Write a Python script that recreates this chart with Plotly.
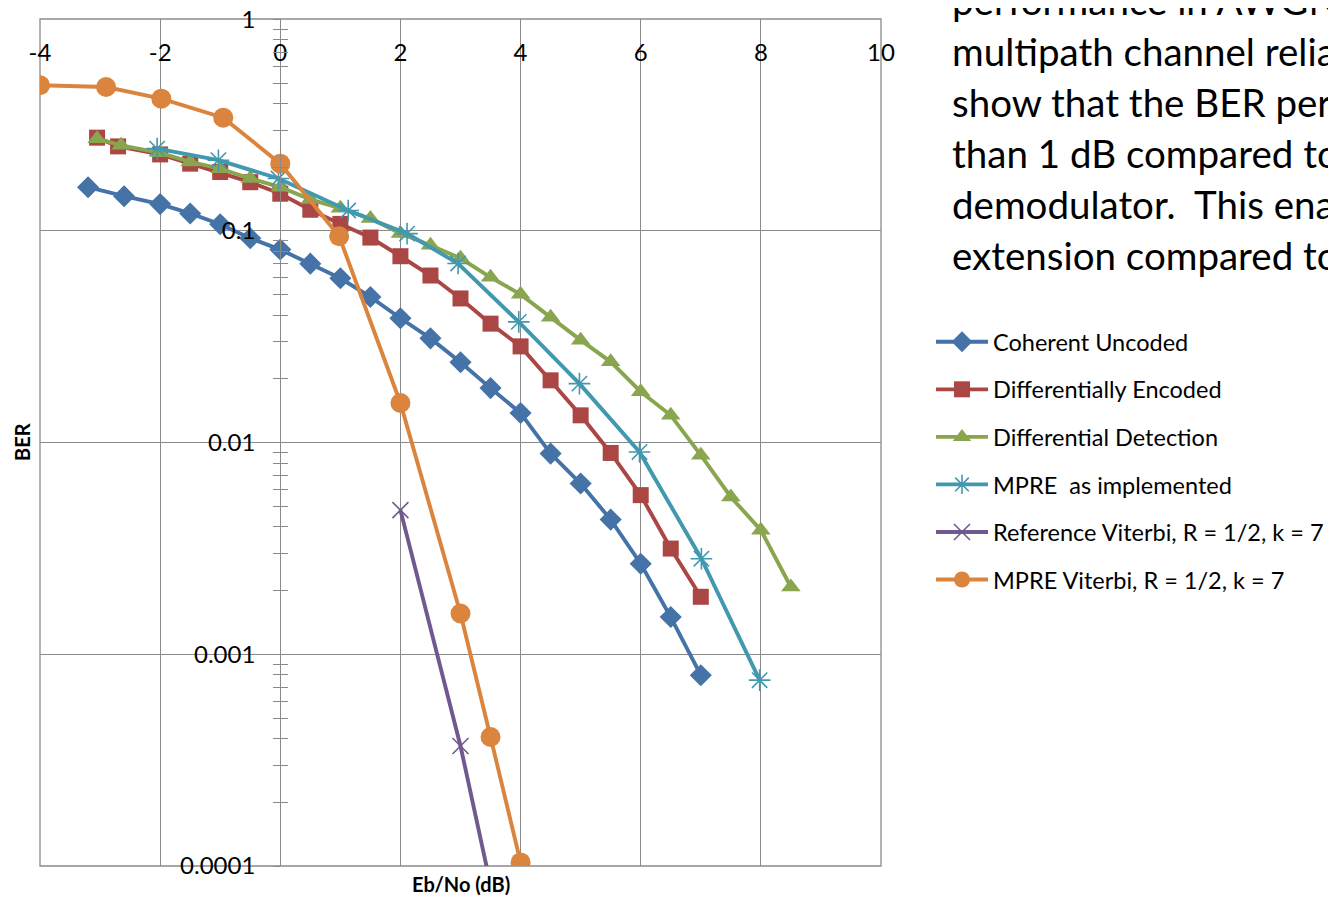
import plotly.graph_objects as go

# ---------------- data ----------------
cu_x = [-3.2, -2.6, -2, -1.5, -1, -0.5, 0, 0.5, 1, 1.5, 2, 2.5, 3, 3.5, 4, 4.5, 5, 5.5, 6, 6.5, 7]
cu_y = [0.161, 0.146, 0.134, 0.121, 0.1076, 0.0924, 0.0817, 0.0701, 0.0598, 0.0488, 0.0387,
        0.0311, 0.0240, 0.0181, 0.0138, 0.00888, 0.00641, 0.00433, 0.00268, 0.00150, 0.000797]

de_x = [-3.05, -2.7, -2, -1.5, -1, -0.5, 0, 0.5, 1, 1.5, 2, 2.5, 3, 3.5, 4, 4.5, 5, 5.5, 6, 6.5, 7]
de_y = [0.276, 0.251, 0.230, 0.208, 0.190, 0.170, 0.150, 0.126, 0.108, 0.0931, 0.0760,
        0.0616, 0.048, 0.0365, 0.0285, 0.0197, 0.01346, 0.00894, 0.00565, 0.00316, 0.00187]

dd_x = [-3.05, -2.65, -2, -1.5, -1, -0.5, 0, 0.5, 1, 1.5, 2, 2.5, 3, 3.5, 4, 4.5, 5, 5.5, 6,
        6.5, 7, 7.5, 8, 8.5]
dd_y = [0.273, 0.254, 0.234, 0.212, 0.197, 0.177, 0.161, 0.141, 0.128, 0.1145, 0.0973, 0.0856,
        0.0743, 0.0604, 0.0502, 0.0391, 0.0305, 0.0241, 0.0174, 0.01346, 0.00873, 0.00554,
        0.00386, 0.00208]

mp_x = [-2.05, -1.03, -0.03, 1.13, 2.11, 2.96, 3.97, 4.98, 5.98, 7.01, 7.98]
mp_y = [0.245, 0.216, 0.177, 0.125, 0.0972, 0.0702, 0.0372, 0.0190, 0.00904, 0.00283, 0.000755]

rv_x = [2, 3, 4]
rv_y = [0.0048, 0.000369, 0.000018]

mv_x = [-4, -2.9, -1.98, -0.95, 0, 0.98, 2, 3, 3.5, 4]
mv_y = [0.488, 0.479, 0.422, 0.343, 0.208, 0.0944, 0.0154, 0.00156, 0.000407, 0.000104]

series_names = ["Coherent Uncoded", "Differentially Encoded", "Differential Detection",
                "MPRE  as implemented", "Reference Viterbi, R = 1/2, k = 7",
                "MPRE Viterbi, R = 1/2, k = 7"]

x_ticks = [-4, -2, 0, 2, 4, 6, 8, 10]
x_ticktext = ["-4", "-2", "0", "2", "4", "6", "8", "10"]
y_ticks = [1, 0.1, 0.01, 0.001, 0.0001]
y_ticktext = ["1", "0.1", "0.01", "0.001", "0.0001"]

side_text = ["performance in AWGN", "multipath channel relia", "show that the BER per",
             "than 1 dB compared to", "demodulator.  This ena", "extension compared to"]

# ---------------- styles ----------------
FONT = "Lato, 'Open Sans', sans-serif"
GRID = "#8a8a8a"
colors = ["#4572A7", "#AA4643", "#89A54E", "#4198AF", "#71588F", "#DB843D"]
symbols = ["diamond", "square", "triangle-up", "asterisk-open", "x-thin-open", "circle"]
msizes = [17, 16, 17, 18, 16, 20]

OFF = 8  # page body margin
W, H = 1336 - OFF, 898 - OFF
ML, MR, MT, MB = 32, 455, 11, 32
PW = W - ML - MR
PH = H - MT - MB
XR = [-4, 10]
YR = [-4, 0.0015]


def sx(px):  # screen px -> paper x
    return (px - OFF - ML) / PW


def sy(py):  # screen px -> paper y
    return 1 - (py - OFF - MT) / PH


fig = go.Figure()
all_x = [cu_x, de_x, dd_x, mp_x, rv_x, mv_x]
all_y = [cu_y, de_y, dd_y, mp_y, rv_y, mv_y]
for i in range(6):
    marker = dict(symbol=symbols[i], size=msizes[i], color=colors[i])
    if symbols[i].endswith("open"):
        marker["line"] = dict(color=colors[i], width=1.6)
    fig.add_trace(go.Scatter(
        x=all_x[i], y=all_y[i], mode="lines+markers", name=series_names[i],
        legendgroup=series_names[i], yaxis="y2" if i == 4 else "y",
        line=dict(color=colors[i], width=3.9), marker=marker))

ypos = (0 - XR[0]) / (XR[1] - XR[0])
TF = dict(family=FONT, size=24, color="black")

fig.update_layout(
    width=W, height=H,
    margin=dict(l=ML, r=MR, t=MT, b=MB, autoexpand=False),
    plot_bgcolor="white", paper_bgcolor="white",
    font=dict(family=FONT, size=22, color="black"),
    xaxis=dict(range=XR, tickvals=x_ticks, ticktext=x_ticktext, anchor="free", position=1,
               side="bottom", ticklabelstandoff=17, showgrid=True, gridcolor=GRID,
               gridwidth=1.3, zeroline=False, showline=False, ticks="", automargin=False,
               tickfont=TF, ticklabeloverflow="allow"),
    yaxis=dict(type="log", range=YR, tickvals=y_ticks, ticktext=y_ticktext,
               anchor="free", position=ypos, side="left", automargin=False,
               showgrid=True, gridcolor=GRID, gridwidth=1.3, zeroline=False,
               showline=True, linecolor=GRID, linewidth=1.3,
               ticks="outside", ticklen=7, tickcolor=GRID, tickwidth=1.3,
               ticklabelstandoff=13, ticklabeloverflow="allow",
               minor=dict(ticks="outside", ticklen=7, tickcolor=GRID, tickwidth=1.3,
                          dtick="D1", showgrid=False),
               tickfont=TF),
    yaxis2=dict(type="log", range=YR, overlaying="y", anchor="free", position=ypos,
                side="left", showgrid=False, zeroline=False, showticklabels=False,
                automargin=False, showline=False,
                ticks="inside", ticklen=7, tickcolor=GRID, tickwidth=1.3, tickvals=y_ticks,
                minor=dict(ticks="inside", ticklen=7, tickcolor=GRID, tickwidth=1.3,
                           dtick="D1", showgrid=False)),
    legend=dict(x=sx(931), xanchor="left", y=sy(320), yanchor="top",
                font=dict(family=FONT, size=23.5, color="black"), bgcolor="rgba(0,0,0,0)",
                itemwidth=52, tracegroupgap=14, traceorder="grouped"),
    showlegend=True,
)

fig.add_shape(type="rect", xref="paper", yref="paper", x0=0, x1=1, y0=0, y1=1,
              line=dict(color=GRID, width=1.3), layer="below")

fig.add_annotation(text="<b>BER</b>", xref="paper", yref="paper",
                   x=sx(22), y=sy(442), xanchor="center", yanchor="middle", textangle=-90,
                   showarrow=False, font=dict(family=FONT, size=20, color="black"))
fig.add_annotation(text="<b>Eb/No (dB)</b>", xref="paper", yref="paper",
                   x=sx(461), y=sy(884), xanchor="center", yanchor="middle",
                   showarrow=False, font=dict(family=FONT, size=20, color="black"))

line_centers = [2, 53, 104, 155, 206, 257]
for t, yc in zip(side_text, line_centers):
    fig.add_annotation(text=t, xref="paper", yref="paper", x=sx(950),
                       y=sy(yc - 2), xanchor="left", yanchor="middle",
                       showarrow=False, font=dict(family=FONT, size=38.5, color="black"))

fig.write_html("out.html")
